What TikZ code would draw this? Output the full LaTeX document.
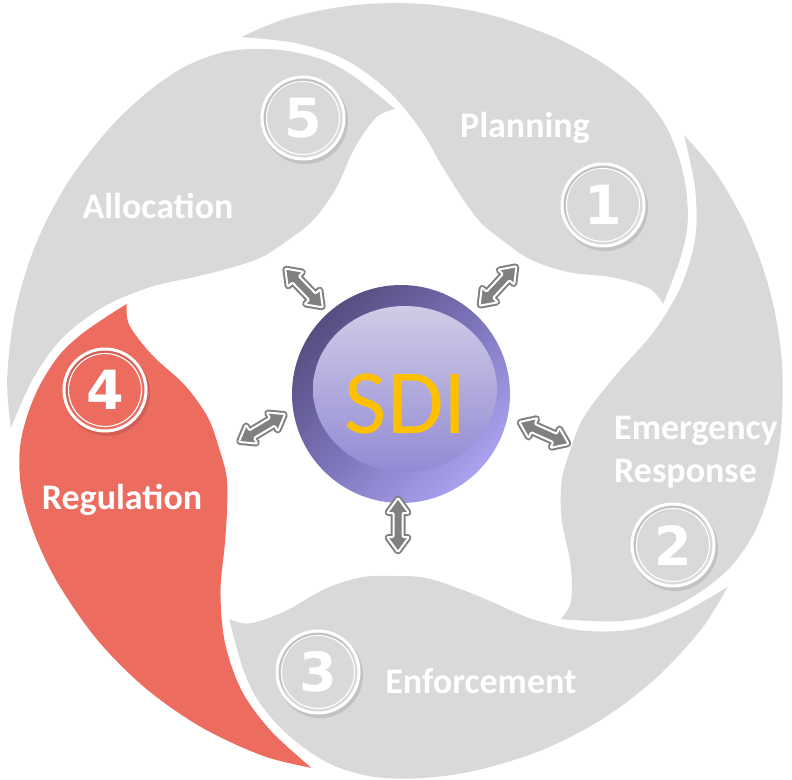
\documentclass[tikz,border=0pt]{standalone}
\usepackage{fontspec}
\setmainfont{Carlito}
\newfontfamily\digitfont{DejaVu Sans}
\definecolor{segGrey}{RGB}{217,217,217}
\definecolor{segRed}{RGB}{236,108,96}
\definecolor{arrowGrey}{RGB}{128,128,128}
\definecolor{sdiDark}{RGB}{86,78,128}
\definecolor{sdiMid}{RGB}{124,116,186}
\definecolor{sdiLight}{RGB}{170,162,240}
\definecolor{hiTop}{RGB}{208,204,230}
\definecolor{hiBot}{RGB}{146,138,212}
\definecolor{sdiText}{RGB}{255,192,0}
\newcommand\segshape[1]{%
 plot[smooth,tension=0.55] coordinates {({#1}:282) ({#1-4}:274) ({#1-9.5}:246) ({#1-16.5}:210) ({#1-26}:189) ({#1-36}:185) ({#1-45}:189) ({#1-53}:205) ({#1-60}:229) ({#1-67}:266) ({#1-74}:304) ({#1-81}:337) ({#1-88}:362) ({#1-95.5}:386)}
 -- plot[smooth,tension=0.55] coordinates {({#1-95.5}:386) ({#1-88}:388) ({#1-78}:388) ({#1-68}:388) ({#1-58}:388) ({#1-48}:388) ({#1-40}:388) ({#1-33}:386.5) ({#1-27}:380) ({#1-22}:369) ({#1-17}:355) ({#1-12}:338) ({#1-8}:320) ({#1-4}:300) ({#1}:282)}
 -- cycle}
\newcommand\sdiarrow[4]{% name, x, y, angle
 \begin{scope}[shift={(#2,#3)}, rotate=#4]
  \coordinate (#1) at (0,0);
  \draw[fill=arrowGrey, draw=white, line width=2pt, line join=round, rounded corners=1pt,
        preaction={draw=arrowGrey, line width=6pt, line join=round}]
   (-27,0) -- (-12,11) -- (-12,4.5) -- (12,4.5) -- (12,11) -- (27,0)
   -- (12,-11) -- (12,-4.5) -- (-12,-4.5) -- (-12,-11) -- cycle;
 \end{scope}}
\begin{document}
\begin{tikzpicture}[x=1pt,y=-1pt,
  numc/.style={circle, draw=white, line width=3pt, minimum size=82pt, inner sep=0pt,
     text=white, font=\digitfont\bfseries\fontsize{54}{54}\selectfont},
  lab/.style={text=white, font=\bfseries\fontsize{36}{43}\selectfont, inner sep=0pt},
  ring/.style={draw=white, line width=1.1pt},
  ringshadow/.style={draw=black, opacity=0.10, line width=4pt}]
\useasboundingbox[fill=white] (0,0) rectangle (792,779);
% segments
\begin{scope}[shift={(395,391)}]
 \fill[segGrey] \segshape{342};
 \fill[segGrey] \segshape{54};
 \fill[segGrey] \segshape{126};
 \fill[segRed] \segshape{198};
 \fill[segGrey] \segshape{270};
\end{scope}
% central sphere
\shade[top color=sdiDark, bottom color=sdiLight, middle color=sdiMid, shading angle=45]
  (401,394) circle[radius=109pt];
\shade[top color=hiTop, bottom color=hiBot] (405,389) ellipse[x radius=92pt, y radius=83pt];
\node[anchor=base, text=sdiText, font=\fontsize{92}{92}\selectfont, inner sep=0pt] (sdi) at (406,433) {SDI};
% arrows
\sdiarrow{a1}{304}{288}{-46}
\sdiarrow{a2}{498}{286}{47}
\sdiarrow{a3}{544}{433}{-24}
\sdiarrow{a4}{398}{525}{90}
\sdiarrow{a5}{262}{428}{31}
% number circles
\foreach \x/\y in {603/205,673/545,318/672,105/390,303/118}
  \draw[ringshadow] (\x+2,\y+3) circle[radius=41pt];
\node[numc] (n1) at (603,205) {1};
\node[numc] (n2) at (673,545) {2};
\node[numc] (n3) at (318,672) {3};
\node[numc] (n4) at (105,390) {4};
\node[numc] (n5) at (303,118) {5};
\foreach \n in {n1,n2,n3,n4,n5} \draw[ring] (\n.center) circle[radius=36.5pt];
% labels
\node[lab, anchor=base] (lp) at (525,137) {Planning};
\node[lab, anchor=base west, align=left] (le) at (614,482) {Emergency\\Response};
\node[lab, anchor=base] (lf) at (481,693) {Enforcement};
\node[lab, anchor=base] (lr) at (122,509) {Regulation};
\node[lab, anchor=base] (la) at (158,218) {Allocation};
\end{tikzpicture}
\end{document}
